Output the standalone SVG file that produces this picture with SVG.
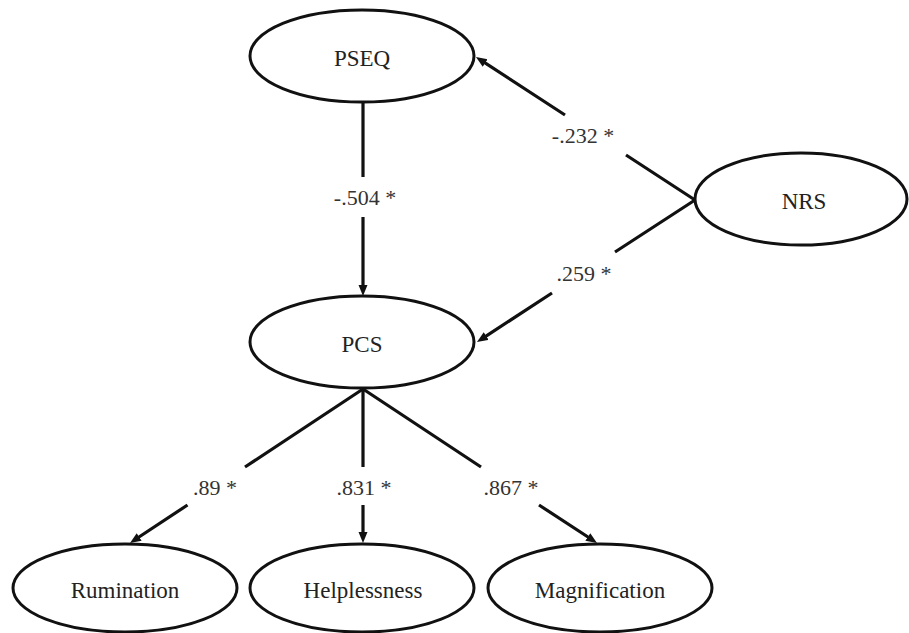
<svg xmlns="http://www.w3.org/2000/svg" width="909" height="633" viewBox="0 0 909 633">
<style>
.node ellipse{fill:#fff;stroke:#111;stroke-width:3}
.node text{font-family:'Liberation Serif','Times New Roman','DejaVu Serif',serif;font-size:23px;fill:#222;text-anchor:middle}
.conn path{fill:none;stroke:#111;stroke-width:3.2}
.lbl{font-family:'Liberation Serif','Times New Roman','DejaVu Serif',serif;font-size:22px;fill:#333;text-anchor:middle}
</style>
<defs>
<marker id="ah" markerUnits="userSpaceOnUse" markerWidth="12" markerHeight="10" refX="2" refY="4.5" orient="auto">
<path d="M0,0 L11,4.5 L0,9 z" fill="#111"/>
</marker>
</defs>
<rect width="909" height="633" fill="#fff"/>
<g id="connectors" class="conn">
<path d="M695,200 L626,155 M565,115 L483.5,61.9" marker-end="url(#ah)"/>
<path d="M363,102 L363,177 M363,217 L363,287" marker-end="url(#ah)"/>
<path d="M695,200 L615,252 M552,293 L484.5,337.1" marker-end="url(#ah)"/>
<path d="M363,389 L245,467 M187.5,505 L137.5,538" marker-end="url(#ah)"/>
<path d="M363,389 L363,467 M363,505 L363,534" marker-end="url(#ah)"/>
<path d="M363,389 L481,467 M539,505 L589.5,538" marker-end="url(#ah)"/>
<text class="lbl" x="583" y="143">-.232 *</text>
<text class="lbl" x="365" y="205">-.504 *</text>
<text class="lbl" x="584" y="281">.259 *</text>
<text class="lbl" x="215" y="495">.89 *</text>
<text class="lbl" x="364" y="495">.831 *</text>
<text class="lbl" x="511" y="495">.867 *</text>
</g>
<g id="PSEQ" class="node"><ellipse cx="362" cy="56" rx="112" ry="46"/><text x="362" y="66">PSEQ</text></g>
<g id="NRS" class="node"><ellipse cx="801" cy="199" rx="106" ry="46"/><text x="804" y="209">NRS</text></g>
<g id="PCS" class="node"><ellipse cx="362" cy="342" rx="112" ry="46"/><text x="362" y="352">PCS</text></g>
<g id="Rumination" class="node"><ellipse cx="125" cy="588" rx="112" ry="44"/><text x="125" y="598">Rumination</text></g>
<g id="Helplessness" class="node"><ellipse cx="362" cy="588" rx="112" ry="44"/><text x="363" y="598">Helplessness</text></g>
<g id="Magnification" class="node"><ellipse cx="600" cy="588" rx="112" ry="44"/><text x="600" y="598">Magnification</text></g>
</svg>
